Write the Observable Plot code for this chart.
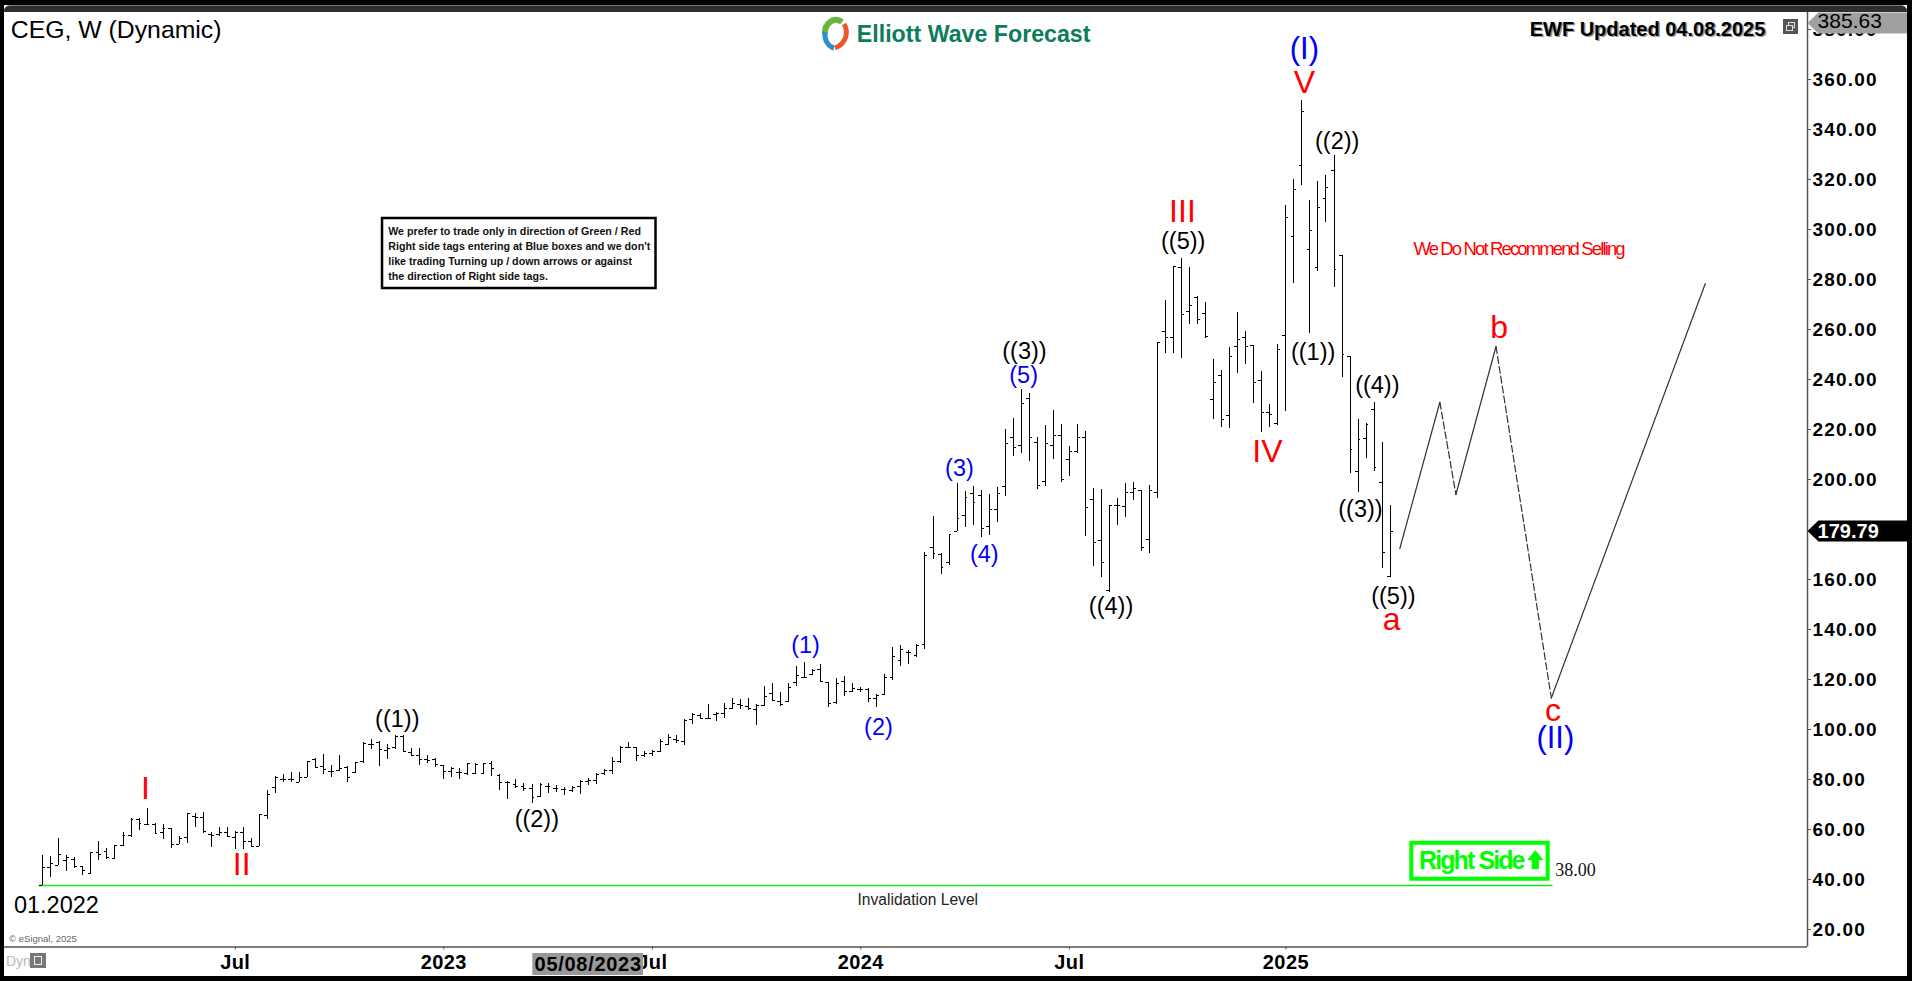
<!DOCTYPE html>
<html><head><meta charset="utf-8">
<script src="https://cdn.jsdelivr.net/npm/d3@7"></script>
<script src="https://cdn.jsdelivr.net/npm/@observablehq/plot@0.6"></script>
<style>
html,body{margin:0;padding:0;background:#fff;overflow:hidden}
#wrap{position:relative;width:1912px;height:981px;overflow:hidden;font-family:"Liberation Sans",Arial,sans-serif}
#wrap svg.plot{position:absolute;left:0;top:0;background:transparent}
.frame{position:absolute;background:#000}
.bar{position:absolute;left:4px;right:5px;top:5px;height:7px;background:#2e2e2e;border-top:1px solid #777;box-sizing:border-box;border-radius:6px 6px 0 0}
g[aria-label="y-axis tick label"] text{letter-spacing:1.2px}
g[aria-label="x-axis tick label"] text{letter-spacing:.4px}
.squeezeR text{letter-spacing:-1.87px}
.squeezeG text{letter-spacing:-1.9px}
.wideD text{letter-spacing:.7px}
.icon{position:absolute;background:#555}
.icon i{position:absolute;border:1px solid #ddd;display:block}
</style></head><body>
<div id="wrap">
<div class="frame" style="left:0;right:0;top:0;height:5px"></div>
<div class="frame" style="left:0;right:0;bottom:0;height:5px"></div>
<div class="frame" style="left:0;top:0;bottom:0;width:4px"></div>
<div class="frame" style="right:0;top:0;bottom:0;width:5px"></div>
<div class="bar"></div>
<svg style="position:absolute;left:818px;top:16px;z-index:3" width="34" height="36" viewBox="0 0 34 36" fill="none">
<path d="M7 18A11 13 0 0 1 24 6" stroke="#6cb33f" stroke-width="6"/>
<path d="M7 16A11 14 0 0 0 16 32" stroke="#2d8fd0" stroke-width="5"/>
<path d="M26 8C31 16 28 28 17 32" stroke="#e9582a" stroke-width="5"/>
</svg>
<div class="icon" style="left:1783px;top:19px;width:15px;height:15px"><i style="left:5px;top:3px;width:5px;height:4px"></i><i style="left:3px;top:6px;width:5px;height:4px;background:#555"></i></div>
<div class="icon" style="left:30px;top:953px;width:16px;height:15px;background:#777"><i style="left:4px;top:3px;width:6px;height:7px;border-color:#eee"></i></div>
</div>
<script>
// Weekly OHLC of CEG, bar 0 = January 2022
const open = [38.0,45.1,45.9,48.0,48.3,45.6,42.9,51.1,51.7,48.9,
54.1,58.1,64.3,62.3,62.4,59.2,60.8,54.4,57.3,65.6,
65.3,58.4,58.4,59.2,57.1,59.3,55.7,53.7,66.0,77.1,
80.5,80.5,79.3,81.1,88.5,85.6,83.6,84.0,85.3,83.2,
87.5,94.4,95.2,92.0,93.3,97.6,91.3,90.0,88.3,88.3,
86.0,83.7,83.3,82.9,82.9,82.9,86.9,82.0,79.3,78.4,
77.6,76.7,73.6,77.7,76.7,76.4,76.0,77.6,79.6,80.0,
82.7,84.0,87.7,93.3,93.1,90.0,90.9,91.6,94.3,96.3,
95.7,104.5,105.9,104.7,106.3,106.7,108.7,110.4,109.6,108.3,
110.0,114.7,111.7,111.6,119.1,121.3,122.3,124.3,119.3,111.3,
119.5,115.7,116.3,116.3,112.7,114.4,121.1,128.0,131.3,130.0,
134.4,173.1,170.4,167.3,179.7,185.9,194.7,194.0,181.6,188.3,
197.6,217.1,213.9,232.7,215.3,199.5,213.9,218.0,208.3,211.7,
217.1,192.3,176.0,156.0,189.9,189.6,195.3,196.0,176.3,195.1,
259.6,257.3,285.1,267.6,273.1,266.9,232.3,242.0,226.0,253.6,
257.1,254.0,240.0,227.1,222.9,257.9,297.6,325.9,292.3,285.3,
312.7,324.0,290.0,249.6,203.6,216.7,228.3,199.1,161.6];
const high = [50.0,49.6,56.8,49.9,49.1,45.6,51.2,55.6,52.7,54.0,
59.2,64.7,64.7,68.9,62.7,62.3,60.8,57.6,66.7,66.7,
67.1,59.3,61.2,61.2,59.7,61.1,56.7,66.4,76.0,81.6,
82.4,83.3,83.2,87.7,88.7,90.4,86.0,89.9,85.6,87.3,
95.1,96.3,95.5,94.4,98.0,97.9,92.7,92.7,90.0,88.7,
86.0,85.3,84.9,86.7,86.7,86.9,87.6,82.6,79.7,80.3,
78.7,78.4,78.7,78.7,78.0,77.1,77.6,80.0,80.7,82.9,
84.5,89.1,93.6,95.3,93.3,91.7,92.0,96.3,98.4,98.1,
104.4,106.7,106.7,110.4,107.3,110.9,112.7,112.4,112.7,110.4,
117.6,118.7,115.2,118.7,125.6,127.2,124.3,126.3,119.3,120.7,
121.6,118.7,117.3,116.9,114.4,122.3,133.1,133.9,132.0,134.4,
171.1,185.6,170.9,178.3,198.8,195.6,197.6,196.0,194.4,197.1,
220.3,224.8,236.4,234.7,217.1,222.0,228.0,222.4,213.6,222.4,
219.6,196.9,196.4,190.0,192.7,198.7,199.2,196.0,198.0,255.1,
272.0,285.7,288.7,285.2,273.7,271.2,248.3,244.0,253.3,267.3,
259.6,254.0,243.6,230.4,254.4,310.0,320.4,352.0,312.0,319.6,
322.0,330.0,290.0,249.6,224.4,222.7,231.1,215.2,189.9];
const low = [38.0,41.3,45.9,43.7,44.7,42.0,42.3,48.0,48.5,48.5,
53.7,57.3,60.0,62.0,58.7,56.5,52.8,54.3,54.7,61.3,
58.9,53.2,57.6,57.1,52.5,52.5,53.3,53.6,64.3,74.9,
79.1,79.3,79.1,81.1,84.7,82.4,81.3,83.7,79.1,82.9,
86.7,92.3,85.7,88.4,92.5,91.7,89.6,85.9,86.7,85.1,
80.5,81.3,80.3,82.0,82.4,82.4,81.7,76.0,72.4,76.9,
75.7,70.9,73.3,74.9,75.3,74.0,75.2,74.4,78.0,78.3,
82.0,82.3,86.9,92.7,87.7,89.3,89.7,91.3,93.9,94.9,
94.0,102.4,104.3,104.3,103.6,104.9,108.3,108.3,108.0,102.0,
109.6,111.9,109.6,111.3,117.7,120.7,122.0,119.3,109.2,110.4,
113.6,115.1,115.2,111.2,109.1,114.1,120.0,125.7,126.4,129.3,
132.3,168.3,162.5,166.0,179.7,181.3,182.1,177.3,178.0,183.3,
193.7,209.7,210.9,207.7,196.3,197.6,208.4,199.3,201.6,210.9,
177.7,165.7,161.3,155.3,182.0,185.3,192.0,171.7,170.9,192.7,
250.9,250.9,248.9,262.3,262.3,256.7,224.5,221.3,220.9,242.9,
246.4,230.7,219.3,221.3,222.1,227.7,278.7,318.0,258.9,283.6,
303.3,277.3,241.3,203.0,195.3,208.9,203.7,164.9,161.3];
const close = [45.1,46.7,50.3,49.3,45.7,44.0,51.2,50.4,49.1,53.9,
58.1,64.3,62.7,62.3,58.9,60.7,54.4,56.7,66.7,65.3,
59.7,58.0,59.1,57.6,59.3,55.6,53.7,66.4,74.3,81.3,
80.5,80.5,81.1,87.7,85.3,84.3,83.5,84.7,81.1,87.2,
94.9,94.4,92.3,92.9,97.6,91.7,90.0,88.3,88.0,86.4,
83.6,84.8,83.2,86.7,86.4,86.7,84.8,79.3,79.3,77.7,
76.9,73.3,78.4,77.6,76.7,76.4,77.1,79.6,80.0,82.4,
84.0,87.6,93.3,93.1,90.0,90.9,91.6,95.7,97.1,96.0,
104.0,106.3,104.7,104.7,106.7,108.7,110.7,110.0,108.7,110.0,
113.6,112.0,110.3,117.1,122.0,121.3,124.0,119.7,110.9,118.9,
115.7,116.7,116.3,112.7,114.0,121.1,129.6,132.3,131.2,134.0,
170.0,170.7,165.3,178.3,184.7,193.3,191.3,180.7,188.3,194.9,
214.7,213.1,230.7,217.1,197.9,214.7,218.0,200.3,211.7,217.1,
189.1,175.1,167.1,190.0,189.9,195.1,196.9,173.1,196.0,255.1,
257.1,285.6,266.3,270.0,264.3,257.6,239.1,224.3,249.7,256.3,
253.6,239.1,227.1,226.4,252.3,305.1,316.3,347.5,300.0,309.3,
317.1,284.3,250.3,212.3,216.4,222.4,205.3,171.1,179.79];

// 180.00 sits wholly behind the last-price tag in the reference
const priceTicks = [20,40,60,80,100,120,140,160,200,220,240,260,280,300,320,340,360,380];
const xTickBars = [24,50,76,102,128,155];
const xTickLabels = ["Jul","2023","Jul","2024","Jul","2025"];

// Wave labels: [text, bar, price]
const blackLabels = [["((1))",44.2,104.6],["((2))",61.6,64.4],["((3))",122.4,251.5],["((4))",133.2,149.5],["((5))",142.2,295.5],
  ["((1))",158.4,251.3],["((2))",161.4,335.5],["((3))",164.3,188.6],["((4))",166.4,237.9],["((5))",168.4,153.8]];
const blueSmall = [["(1)",95.1,133.9],["(2)",104.2,101.4],["(3)",114.3,205.0],["(4)",117.4,170.6],["(5)",122.3,242.0]];
const blueBig = [["(I)",157.3,372.6],["(II)",188.6,96.8]];
const redLabels = [["I",12.8,76.8],["II",24.8,46.4],["III",142.1,307.7],["IV",152.7,211.7],["V",157.3,359.3],["a",168.2,144.3],["b",181.6,261.2],["c",188.3,107.8]];

// Projected path after the last bar
const pathA = [[169.2,172.7],[174.2,231.3]];
const pathB = [[174.2,231.3],[176.2,194.4]];
const pathC = [[176.2,194.4],[181.2,253.6]];
const pathD = [[181.2,253.6],[188.1,113]];
const pathE = [[188.1,113],[207.3,278.8]];

const invalidation = 38;
const noteLines = [["We prefer to trade only in direction of Green / Red",299.7],["Right side tags entering at Blue boxes and we don't",293.7],["like trading Turning up / down arrows or against",287.6],["the direction of Right side tags.",281.5]];
const upArrow = [[186.1,52.2],[187.1,48.2],[186.55,48.2],[186.55,44.6],[185.65,44.6],[185.65,48.2],[185.1,48.2],[186.1,52.2]];

const bars = open.map((o,i)=>({i,o,h:high[i],l:low[i],c:close[i]}));
const F = "Liberation Sans";
const xMax = 220.04, yMin = 13.4, xLeft = -4.776, yMax = 387.2, tagEnd = 232.5, tagBody = 221.4;
const labelMark = (rows,size,fill)=>Plot.text(rows,{x:d=>d[1],y:d=>d[2],text:d=>d[0],fill,fontSize:size,fontFamily:F});
const seg = (pts,dash)=>Plot.line(pts,{x:d=>d[0],y:d=>d[1],stroke:"#333",strokeWidth:1.2,strokeDasharray:dash});
const tag = (mid,half,fill)=>Plot.line([[xMax,mid],[tagBody,mid+half],[tagEnd,mid+half],[tagEnd,mid-half],[tagBody,mid-half],[xMax,mid]],{x:d=>d[0],y:d=>d[1],fill,stroke:"none"});
const one = (x,y,text,o)=>Plot.text([0],{x:()=>x,y:()=>y,text:()=>text,fontFamily:F,...o});

const chart = Plot.plot({
  width:1912,height:981,marginTop:12,marginRight:105,marginBottom:34.5,marginLeft:4,
  style:{background:"transparent",overflow:"visible"},
  x:{domain:[xLeft,xMax]},
  y:{domain:[yMin,yMax]},
  marks:[
    Plot.axisY(priceTicks,{anchor:"right",tickFormat:d3.format(".2f"),tickSize:3,tickPadding:2,label:null,fontSize:19,fontWeight:"bold",fontFamily:F,fill:"#000",stroke:"#555",dy:-1}),
    Plot.axisX(xTickBars,{anchor:"bottom",tickFormat:(d,i)=>xTickLabels[i],tickSize:3,tickPadding:5,label:null,fontSize:20,fontWeight:"bold",fontFamily:F,fill:"#000",stroke:"#555"}),
    Plot.ruleX([xMax],{stroke:"#555",strokeWidth:1.5}),
    Plot.ruleY([yMin],{stroke:"#555",strokeWidth:1.5}),

    Plot.rect([0],{x1:()=>61.1,x2:()=>74.9,y1:()=>2,y2:()=>10.8,fill:"#999"}),
    one(68,6.2,"05/08/2023",{fontSize:20,fontWeight:"bold",fill:"#000",className:"wideD"}),

    Plot.ruleY([invalidation],{x1:-0.4,x2:188.3,stroke:"#22e022",strokeWidth:1.5}),

    Plot.ruleX(bars,{x:"i",y1:"l",y2:"h",stroke:"#000",strokeWidth:1,shapeRendering:"crispEdges"}),
    Plot.ruleY(bars,{y:"o",x1:d=>d.i-0.36,x2:"i",stroke:"#000",strokeWidth:1,shapeRendering:"crispEdges"}),
    Plot.ruleY(bars,{y:"c",x1:"i",x2:d=>d.i+0.36,stroke:"#000",strokeWidth:1,shapeRendering:"crispEdges"}),

    seg(pathA),seg(pathB,"7,3"),seg(pathC),seg(pathD,"7,3"),seg(pathE),

    labelMark(blackLabels,23.5,"#000"),
    labelMark(blueSmall,23.5,"#0000ff"),
    labelMark(blueBig,31,"#0000ff"),
    labelMark(redLabels,32,"#ff0000"),

    Plot.rect([0],{x1:()=>42.36,x2:()=>76.46,y1:()=>276.8,y2:()=>304.8,fill:"#fff",stroke:"#000",strokeWidth:2.5}),
    Plot.text(noteLines,{x:()=>43.07,y:d=>d[1],text:d=>d[0],textAnchor:"start",fontFamily:F,fontWeight:"bold",fontSize:10.7,fill:"#111"}),

    Plot.rect([0],{x1:()=>170.7,x2:()=>187.7,y1:()=>40.5,y2:()=>54.9,fill:"#fff",stroke:"#00ff00",strokeWidth:4}),
    one(171.6,48,"Right Side",{textAnchor:"start",fontSize:25,fontWeight:"bold",fill:"#00ff00",className:"squeezeG"}),
    Plot.line(upArrow,{x:d=>d[0],y:d=>d[1],fill:"#00ff00",stroke:"none"}),
    one(188.6,44,"38.00",{textAnchor:"start",fontFamily:"Liberation Serif",fontSize:18,fill:"#111"}),
    one(109.1,32.4,"Invalidation Level",{fontSize:15.6,fill:"#222"}),
    one(-3.6,30,"01.2022",{textAnchor:"start",fontSize:23.5,fill:"#000"}),
    one(-4.2,16.8,"\u00A9 eSignal, 2025",{textAnchor:"start",fontSize:9.5,fill:"#666"}),
    one(-4.6,7.6,"Dyn",{textAnchor:"start",fontSize:14,fill:"#bbb"}),

    one(170.9,292.4,"We Do Not Recommend Selling",{textAnchor:"start",fontSize:18.5,fill:"#ff0000",className:"squeezeR"}),
    one(-4,380,"CEG, W (Dynamic)",{textAnchor:"start",fontSize:24.8,fill:"#000"}),
    one(101.5,378.4,"Elliott Wave Forecast",{textAnchor:"start",fontSize:23.2,fontWeight:"bold",fill:"#0a7d5a"}),
    Plot.text([0],{x:()=>185.4,y:()=>380.4,dx:1.5,dy:1.5,text:()=>"EWF Updated 04.08.2025",textAnchor:"start",fontFamily:F,fontSize:20,fontWeight:"bold",fill:"#999"}),
    one(185.4,380.4,"EWF Updated 04.08.2025",{textAnchor:"start",fontSize:20,fontWeight:"bold",fill:"#000"}),

    tag(383,4.2,"#a0a0a0"),
    one(221.3,383.8,"385.63",{textAnchor:"start",fontSize:21,fill:"#000"}),
    tag(179.79,4.2,"#000"),
    one(221.3,179.6,"179.79",{textAnchor:"start",fontSize:20,fontWeight:"bold",fill:"#fff"})
  ]
});
document.getElementById("wrap").appendChild(chart);
</script>
</body></html>
